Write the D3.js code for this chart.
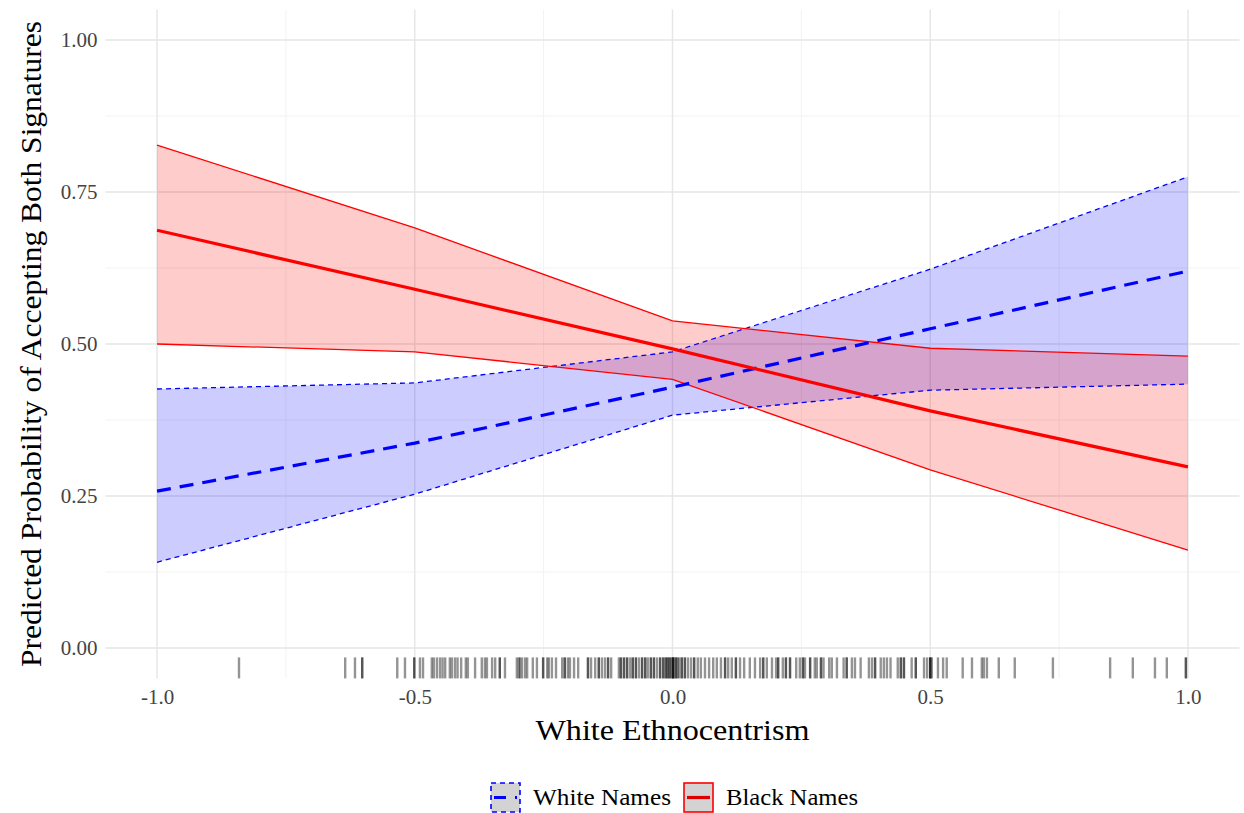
<!DOCTYPE html>
<html>
<head>
<meta charset="utf-8">
<script src="https://cdn.jsdelivr.net/npm/d3@7"></script>
<style>
  body { margin: 0; background: #fff; }
  text { font-family: "Liberation Serif", "DejaVu Serif", serif; }
</style>
</head>
<body>
<script>
// predicted probabilities at each level of white ethnocentrism
const xLevels = [-1, -0.5, 0, 0.5, 1];
const whiteFit = [0.258, 0.337, 0.429, 0.525, 0.620];
const whiteLow = [0.141, 0.253, 0.383, 0.424, 0.434];
const whiteHigh = [0.426, 0.436, 0.487, 0.623, 0.775];
const blackFit = [0.687, 0.590, 0.492, 0.390, 0.298];
const blackLow = [0.500, 0.487, 0.442, 0.293, 0.161];
const blackHigh = [0.827, 0.691, 0.538, 0.493, 0.480];

const xTicks = [-1, -0.5, 0, 0.5, 1];
const yTicks = [0, 0.25, 0.5, 0.75, 1];
const legendLabels = ["White Names", "Black Names"];

// observed ethnocentrism scores (rug)
const rugX = [
  -0.841, -0.635, -0.616, -0.602, -0.602, -0.534, -0.519,
  -0.501, -0.501, -0.490, -0.484, -0.467, -0.463, -0.457, -0.451, -0.446,
  -0.441, -0.432, -0.428, -0.422, -0.417, -0.410, -0.401, -0.397, -0.383,
  -0.370, -0.364, -0.360, -0.350, -0.344, -0.335, -0.335, -0.325,
  -0.302, -0.298, -0.296, -0.292, -0.286, -0.282, -0.271, -0.263,
  -0.251, -0.251, -0.243, -0.240, -0.234, -0.226, -0.214, -0.209, -0.209,
  -0.203, -0.199, -0.191, -0.183, -0.164, -0.164, -0.158, -0.150, -0.143,
  -0.143, -0.137, -0.131, -0.125, -0.125, -0.119, -0.104, -0.100, -0.100,
  -0.094, -0.094, -0.088, -0.088, -0.082, -0.077, -0.077, -0.071, -0.071,
  -0.065, -0.059, -0.059, -0.053, -0.053, -0.048, -0.042, -0.042, -0.036,
  -0.036, -0.030, -0.024, -0.024, -0.018, -0.018, -0.013, -0.013, -0.009,
  -0.009, -0.005, -0.005, -0.001, 0.001, 0.001, 0.001, 0.003, 0.007, 0.007,
  0.010, 0.013, 0.018, 0.018, 0.024, 0.024, 0.030, 0.036, 0.042, 0.042,
  0.049, 0.055, 0.063, 0.071, 0.079, 0.086, 0.094, 0.102, 0.102, 0.108,
  0.115, 0.123, 0.123, 0.131, 0.139, 0.150, 0.160, 0.170, 0.176, 0.176,
  0.183, 0.193, 0.201, 0.205, 0.205, 0.214, 0.220, 0.220, 0.228, 0.228,
  0.240, 0.247, 0.253, 0.253, 0.257, 0.267, 0.267, 0.276, 0.280, 0.288,
  0.288, 0.293, 0.304, 0.309, 0.319, 0.332, 0.338, 0.338, 0.348, 0.354,
  0.365, 0.381, 0.387, 0.393, 0.393, 0.404, 0.410, 0.416, 0.423, 0.437,
  0.443, 0.443, 0.449, 0.449, 0.464, 0.472, 0.472, 0.488, 0.494, 0.500,
  0.500, 0.500, 0.503, 0.515, 0.525, 0.532, 0.563, 0.581, 0.600, 0.604,
  0.610, 0.633, 0.664, 0.738, 0.849, 0.893, 0.936, 0.959, 0.996, 0.996
];

const W = 1244, H = 813;
const svg = d3.select("body").append("svg")
  .attr("width", W)
  .attr("height", H);

const x = d3.scaleLinear().domain([-1.1, 1.1]).range([105.5, 1239.5]);
const y = d3.scaleLinear().domain([-0.05, 1.05]).range([678.4, 9.6]);

// gridlines (minor first, then major)
const grid = svg.append("g");
const xMinor = [-0.75, -0.25, 0.25, 0.75];
const yMinor = [0.125, 0.375, 0.625, 0.875];
grid.selectAll(".xminor").data(xMinor).enter().append("line")
  .attr("x1", d => x(d)).attr("x2", d => x(d))
  .attr("y1", y.range()[0]).attr("y2", y.range()[1])
  .attr("stroke", "#f2f2f2").attr("stroke-width", 1);
grid.selectAll(".yminor").data(yMinor).enter().append("line")
  .attr("y1", d => y(d)).attr("y2", d => y(d))
  .attr("x1", x.range()[0]).attr("x2", x.range()[1])
  .attr("stroke", "#f2f2f2").attr("stroke-width", 1);
grid.selectAll(".xmajor").data(xTicks).enter().append("line")
  .attr("x1", d => x(d)).attr("x2", d => x(d))
  .attr("y1", y.range()[0]).attr("y2", y.range()[1])
  .attr("stroke", "#e6e6e6").attr("stroke-width", 1.4);
grid.selectAll(".ymajor").data(yTicks).enter().append("line")
  .attr("y1", d => y(d)).attr("y2", d => y(d))
  .attr("x1", x.range()[0]).attr("x2", x.range()[1])
  .attr("stroke", "#e6e6e6").attr("stroke-width", 1.4);

const groups = [
  { fit: whiteFit, low: whiteLow, high: whiteHigh, col: "#0000ff", dash: "14,9", edgeDash: "5,4" },
  { fit: blackFit, low: blackLow, high: blackHigh, col: "#ff0000", dash: null, edgeDash: null }
];

const area = d3.area()
  .x((d, i) => x(xLevels[i]))
  .y0(d => y(d[0]))
  .y1(d => y(d[1]));
const line = d3.line()
  .x((d, i) => x(xLevels[i]))
  .y(d => y(d));

// ribbons
groups.forEach(g => {
  const band = g.low.map((v, i) => [v, g.high[i]]);
  svg.append("path")
    .attr("d", area(band))
    .attr("fill", g.col)
    .attr("fill-opacity", 0.2);
});
groups.forEach(g => {
  [g.low, g.high].forEach(edge => {
    svg.append("path")
      .attr("d", line(edge))
      .attr("fill", "none")
      .attr("stroke", g.col)
      .attr("stroke-width", 1.3)
      .attr("stroke-dasharray", g.edgeDash);
  });
});
// fitted lines
groups.forEach(g => {
  svg.append("path")
    .attr("d", line(g.fit))
    .attr("fill", "none")
    .attr("stroke", g.col)
    .attr("stroke-width", 3.2)
    .attr("stroke-dasharray", g.dash);
});

// rug
svg.append("g").selectAll("line").data(rugX).enter().append("line")
  .attr("x1", d => x(d)).attr("x2", d => x(d))
  .attr("y1", y.range()[0] - 21).attr("y2", y.range()[0])
  .attr("stroke", "#000")
  .attr("stroke-opacity", 0.42)
  .attr("stroke-width", 2.4);

// axes
const xAxis = svg.append("g")
  .attr("transform", "translate(0," + 678.4 + ")")
  .call(d3.axisBottom(x).tickValues(xTicks).tickFormat(d3.format(".1f")).tickSize(0).tickPadding(11));
const yAxis = svg.append("g")
  .attr("transform", "translate(105.5,0)")
  .call(d3.axisLeft(y).tickValues(yTicks).tickFormat(d3.format(".2f")).tickSize(0).tickPadding(8));
[xAxis, yAxis].forEach(a => {
  a.select(".domain").remove();
  a.selectAll("text")
    .attr("font-family", "Liberation Serif")
    .attr("font-size", 21)
    .attr("fill", "#444");
});
xAxis.selectAll("text").text(d => d3.format(".1f")(d).replace("−", "-"));

svg.append("text")
  .attr("x", x(0)).attr("y", 740)
  .attr("text-anchor", "middle")
  .attr("font-size", 30)
  .attr("fill", "#000")
  .attr("textLength", 274)
  .attr("lengthAdjust", "spacingAndGlyphs")
  .text("White Ethnocentrism");
svg.append("text")
  .attr("transform", "translate(41," + y(0.5) + ") rotate(-90)")
  .attr("text-anchor", "middle")
  .attr("font-size", 30)
  .attr("fill", "#000")
  .attr("textLength", 646)
  .attr("lengthAdjust", "spacingAndGlyphs")
  .text("Predicted Probability of Accepting Both Signatures");

// legend
const legend = svg.append("g");
const keyX = [490, 683];
const labelLen = [138, 132];
legendLabels.forEach((lab, i) => {
  const g = groups[i];
  const k = legend.append("g").attr("transform", "translate(" + keyX[i] + ",782)");
  k.append("rect")
    .attr("x", 1).attr("y", 1).attr("width", 29).attr("height", 29)
    .attr("fill", "#d3d3d3")
    .attr("stroke", g.col).attr("stroke-width", 1.6)
    .attr("stroke-dasharray", g.edgeDash);
  k.append("line")
    .attr("x1", 4).attr("x2", 27).attr("y1", 15.5).attr("y2", 15.5)
    .attr("stroke", i === 0 ? "#0000ff" : "#dd0000")
    .attr("stroke-width", 3.2)
    .attr("stroke-dasharray", i === 0 ? "12,9" : null);
  k.append("text")
    .attr("x", 43).attr("y", 23)
    .attr("font-size", 24)
    .attr("fill", "#000")
    .attr("textLength", labelLen[i])
    .attr("lengthAdjust", "spacingAndGlyphs")
    .text(lab);
});
</script>
</body>
</html>
